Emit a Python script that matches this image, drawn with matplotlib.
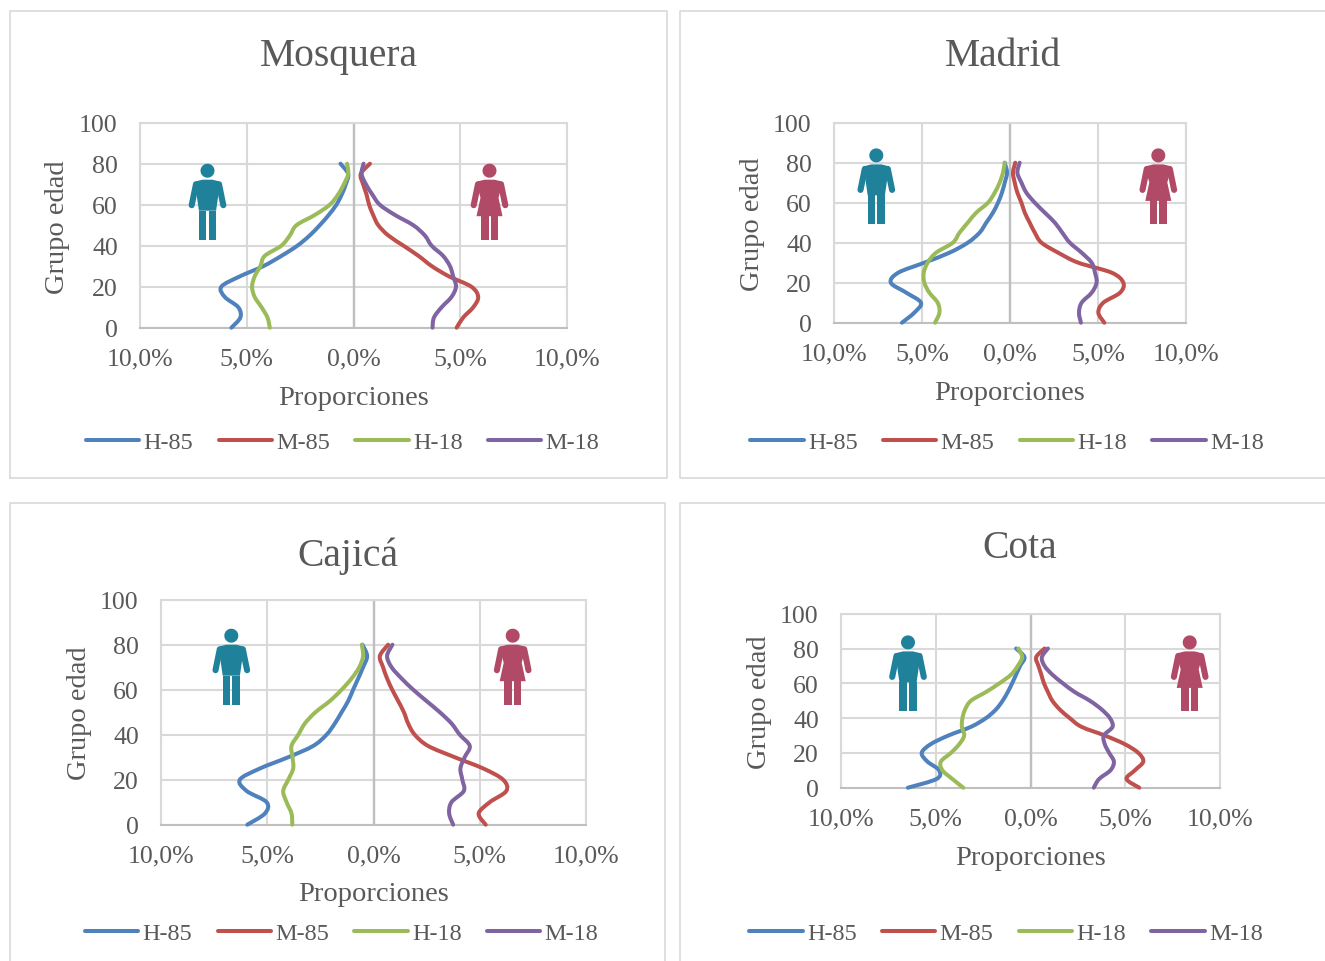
import math
import matplotlib
matplotlib.use("Agg")
import matplotlib.pyplot as plt
from matplotlib.path import Path
from matplotlib.patches import PathPatch, Polygon
from matplotlib.lines import Line2D
from matplotlib.ticker import FuncFormatter

W, H = 1325, 962
plt.rcParams['font.family'] = ['Liberation Serif', 'DejaVu Serif']

AGES = [0, 5, 10, 15, 20, 25, 30, 35, 40, 45, 50, 55, 60, 65, 70, 75, 80]
SERIES = ['H-85', 'M-85', 'H-18', 'M-18']
TOWNS = ['Mosquera', 'Madrid', 'Cajicá', 'Cota']

# Percent of population per age group (magnitudes; H series drawn to the left)
mosquera_h85 = [5.72, 5.30, 5.40, 6.03, 6.19, 5.33, 4.23, 3.38, 2.63, 2.05, 1.58, 1.16, .80, .55, .36, .25, .61]
mosquera_m85 = [4.83, 5.14, 5.61, 5.84, 5.52, 4.48, 3.67, 3.05, 2.34, 1.63, 1.16, .92, .73, .61, .45, .34, .77]
mosquera_h18 = [3.92, 4.03, 4.31, 4.63, 4.75, 4.63, 4.36, 4.16, 3.38, 2.98, 2.67, 1.81, 1.11, .72, .45, .25, .30]
mosquera_m18 = [3.70, 3.77, 4.13, 4.59, 4.80, 4.67, 4.52, 4.20, 3.66, 3.34, 2.80, 1.94, 1.23, .88, .58, .38, .47]

madrid_h85 = [6.14, 5.44, 5.06, 5.89, 6.77, 6.35, 4.87, 3.44, 2.40, 1.73, 1.35, .97, .68, .46, .30, .17, .30]
madrid_m85 = [5.36, 5.02, 5.30, 6.25, 6.44, 5.78, 3.88, 2.74, 1.79, 1.41, 1.12, .84, .65, .42, .27, .17, .30]
madrid_h18 = [4.26, 4.01, 4.11, 4.58, 4.87, 4.90, 4.68, 4.20, 3.25, 2.87, 2.40, 1.92, 1.25, .87, .59, .40, .30]
madrid_m18 = [4.03, 3.92, 4.07, 4.64, 4.92, 4.83, 4.64, 4.07, 3.40, 2.97, 2.55, 1.98, 1.41, .93, .65, .42, .55]

cajica_h85 = [5.94, 5.11, 5.03, 5.97, 6.29, 5.34, 4.01, 2.84, 2.21, 1.82, 1.50, 1.19, .96, .72, .49, .30, .52]
cajica_m85 = [5.28, 4.95, 5.47, 6.25, 6.10, 5.16, 3.82, 2.57, 1.94, 1.63, 1.43, 1.16, .88, .64, .45, .30, .69]
cajica_h18 = [3.82, 3.86, 4.09, 4.25, 4.01, 3.78, 3.81, 3.86, 3.54, 3.23, 2.73, 2.05, 1.50, 1.03, .67, .49, .55]
cajica_m18 = [3.75, 3.56, 3.67, 4.25, 4.18, 4.09, 4.29, 4.53, 4.06, 3.67, 3.12, 2.49, 1.87, 1.32, .85, .64, .89]

cota_h85 = [6.47, 4.96, 4.82, 5.44, 5.74, 5.27, 4.33, 3.14, 2.35, 1.82, 1.47, 1.20, .97, .76, .55, .32, .76]
cota_m85 = [5.74, 5.07, 5.51, 5.95, 5.69, 4.98, 3.92, 2.69, 2.07, 1.54, 1.15, .92, .71, .57, .42, .30, .74]
cota_h18 = [3.55, 4.12, 4.65, 4.73, 4.20, 3.76, 3.50, 3.62, 3.59, 3.45, 3.14, 2.35, 1.64, 1.02, .67, .44, .64]
cota_m18 = [3.34, 3.62, 4.22, 4.40, 4.15, 3.92, 3.87, 4.33, 4.19, 3.75, 3.13, 2.33, 1.71, 1.15, .74, .60, .92]

DATA = {
    'Mosquera': [mosquera_h85, mosquera_m85, mosquera_h18, mosquera_m18],
    'Madrid': [madrid_h85, madrid_m85, madrid_h18, madrid_m18],
    'Cajicá': [cajica_h85, cajica_m85, cajica_h18, cajica_m18],
    'Cota': [cota_h85, cota_m85, cota_h18, cota_m18],
}
COLORS = ['#4f81bd', '#c0504d', '#9bbb59', '#8064a2']
SIGNS = [-1, 1, -1, 1]
GRID, AXIS = '#d9d9d9', '#bfbfbf'
TEXT = '#595959'
MAN, WOMAN = '#20819b', '#b04a66'

# Layout in image pixels
LAYOUT = {
    'Mosquera': dict(ax=(140, 123, 567, 328), title=(338.5, 54), xl=(354, 396), yl=(56, 226), leg=(342.5, 441),
                     man=(207.5, 171), woman=(489.5, 171), frame=[(10, 478), (10, 11), (667, 11), (667, 478), (10, 478)]),
    'Madrid': dict(ax=(834, 123, 1186, 323), title=(1003.5, 54), xl=(1010, 391), yl=(750, 223), leg=(1007, 441),
                   man=(876.3, 155.7), woman=(1158.3, 155.7), frame=[(1325, 478), (680, 478), (680, 11), (1325, 11)]),
    'Cajicá': dict(ax=(161, 600, 586, 825), title=(348, 554), xl=(373.5, 892), yl=(77, 712), leg=(341.5, 932),
                   man=(231.3, 636), woman=(512.7, 636), frame=[(10, 962), (10, 503), (665, 503), (665, 962)]),
    'Cota': dict(ax=(841, 614, 1220, 788), title=(1019.5, 546), xl=(1031, 856), yl=(757, 701), leg=(1006, 932),
                 man=(908, 642.7), woman=(1189.7, 642.7), frame=[(680, 962), (680, 503), (1325, 503)]),
}

fig = plt.figure(figsize=(W / 100, H / 100), dpi=100, facecolor='white')
CIRCLE = [(math.cos(2 * math.pi * k / 40), math.sin(2 * math.pi * k / 40)) for k in range(40)]
YSHIFT = 0.7
TEXTSHIFT = 1.5


def fx(x):
    return x / W


def fy(y):
    return 1 - (y + YSHIFT) / H


def smooth_path(xs, ys):
    """Cubic Bezier path through the data points (Excel-like smoothed line)."""
    pts = list(zip(xs, ys))
    verts, codes = [pts[0]], [Path.MOVETO]
    for i in range(len(pts) - 1):
        p0 = pts[max(i - 1, 0)]
        p1 = pts[i]
        p2 = pts[i + 1]
        p3 = pts[min(i + 2, len(pts) - 1)]
        c1 = (p1[0] + (p2[0] - p0[0]) / 6, p1[1] + (p2[1] - p0[1]) / 6)
        c2 = (p2[0] - (p3[0] - p1[0]) / 6, p2[1] - (p3[1] - p1[1]) / 6)
        verts += [c1, c2, p2]
        codes += [Path.CURVE4] * 3
    return Path(verts, codes)


def icon(cx, cy, color, female):
    tf = fig.transFigure

    def P(dx, dy):
        return (fx(cx + dx), fy(cy + dy))

    fig.add_artist(Polygon([P(7 * c, 7 * s) for c, s in CIRCLE], closed=True, transform=tf, fc=color, ec='none'))
    for sgn in (-1, 1):
        fig.add_artist(Line2D([fx(cx + sgn * 11.5), fx(cx + sgn * 15.8)], [fy(cy + 13.5), fy(cy + 34.5)],
                              transform=tf, color=color, lw=4.4, solid_capstyle='round'))
        fig.add_artist(Polygon([P(sgn * 1, 40), P(sgn * 8.6, 40), P(sgn * 8.6, 69), P(sgn * 1, 69)],
                               closed=True, transform=tf, fc=color, ec='none'))
    if female:
        body = [(-5, 9), (5, 9), (11, 10.5), (13, 13), (9, 27), (13, 45.5), (-13, 45.5), (-9, 27), (-13, 13), (-11, 10.5)]
    else:
        body = [(-5, 9), (5, 9), (11, 10.5), (13, 13), (11.2, 22), (8.6, 40), (-8.6, 40), (-11.2, 22), (-13, 13), (-11, 10.5)]
    fig.add_artist(Polygon([P(*p) for p in body], closed=True, transform=tf, fc=color, ec='none'))


for town in TOWNS:
    L = LAYOUT[town]
    x0, y0, x1, y1 = L['ax']
    ax = fig.add_axes([fx(x0), fy(y1), (x1 - x0) / W, (y1 - y0) / H], facecolor='none')
    ax.set_xlim(-10, 10)
    ax.set_ylim(0, 100)
    ax.set_xticks([-10, -5, 0, 5, 10])
    ax.set_yticks([0, 20, 40, 60, 80, 100])
    ax.xaxis.set_major_formatter(FuncFormatter(lambda v, _: f"{abs(v):.1f}".replace('.', ',') + '%'))
    ax.grid(True, color=GRID, lw=1.5)
    ax.set_axisbelow(True)
    ax.axvline(0, color=AXIS, lw=1.7, zorder=1.5)
    ax.tick_params(length=0, labelsize=18.6, labelcolor=TEXT)
    ax.tick_params(axis='x', pad=14.5)
    ax.tick_params(axis='y', pad=16)
    for name, sp in ax.spines.items():
        sp.set_color(AXIS if name == 'bottom' else GRID)
        sp.set_linewidth(1.5)

    for vals, color, sgn in zip(DATA[town], COLORS, SIGNS):
        ax.add_patch(PathPatch(smooth_path([sgn * v for v in vals], AGES), fill=False, ec=color, lw=2.9,
                               capstyle='round', joinstyle='round', zorder=3, clip_on=False))

    fig.text(fx(L['title'][0]), fy(L['title'][1] + TEXTSHIFT), town, ha='center', va='center', fontsize=28.5, color=TEXT)
    fig.text(fx(L['xl'][0]), fy(L['xl'][1] + TEXTSHIFT), 'Proporciones', ha='center', va='center', fontsize=20.5, color=TEXT)
    fig.text(fx(L['yl'][0] + 2), fy(L['yl'][1]), 'Grupo edad', ha='center', va='center', rotation=90, fontsize=20.5, color=TEXT)

    handles = [Line2D([], [], color=c, lw=2.9, solid_capstyle='round') for c in COLORS]
    fig.legend(handles, SERIES, loc='center', bbox_to_anchor=(fx(L['leg'][0]), fy(L['leg'][1] + TEXTSHIFT)), ncol=4,
               frameon=False, fontsize=17.5, labelcolor=TEXT, handlelength=2.2, handletextpad=0.17, columnspacing=1.04,
               borderpad=0, borderaxespad=0)

    fig.add_artist(Line2D([fx(p[0]) for p in L['frame']], [fy(p[1]) for p in L['frame']], transform=fig.transFigure,
                          color=GRID, lw=1.2))
    icon(*L['man'], MAN, False)
    icon(*L['woman'], WOMAN, True)

fig.savefig('out.png', dpi=100)
